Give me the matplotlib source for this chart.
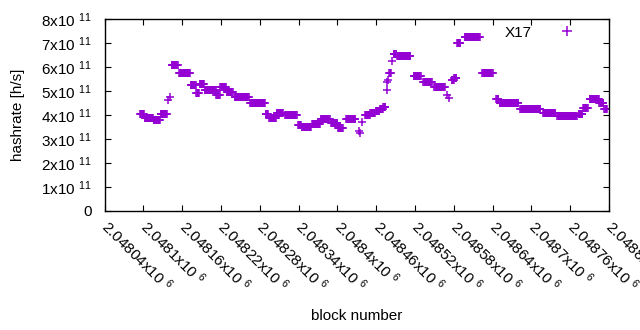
import matplotlib
matplotlib.use("Agg")
import matplotlib.pyplot as plt
import numpy as np

plt.rcParams['font.family'] = ['Liberation Sans', 'DejaVu Sans']
plt.rcParams['mathtext.fontset'] = 'custom'
plt.rcParams['mathtext.rm'] = 'Liberation Sans'
plt.rcParams['mathtext.it'] = 'Liberation Sans'

# runs of blocks with the same hashrate estimate (start block, end block, hashrate x1e11)
run_start = [2048095, 2048102, 2048116, 2048127, 2048138, 2048141, 2048144, 2048155,
             2048173, 2048182, 2048187, 2048195, 2048213, 2048219, 2048229, 2048241,
             2048265, 2048289, 2048295, 2048306, 2048319, 2048339, 2048345, 2048361,
             2048374, 2048390, 2048401, 2048414, 2048433, 2048435, 2048438, 2048443,
             2048451, 2048459, 2048466, 2048471, 2048476, 2048477, 2048479, 2048480,
             2048485, 2048487, 2048493, 2048518, 2048533, 2048550, 2048569, 2048572,
             2048577, 2048581, 2048585, 2048597, 2048624, 2048646, 2048651, 2048683,
             2048718, 2048740, 2048773, 2048780, 2048790, 2048805, 2048813]
run_end = [2048101, 2048115, 2048126, 2048136, 2048138, 2048141, 2048153, 2048172,
           2048181, 2048186, 2048194, 2048212, 2048218, 2048228, 2048238, 2048263,
           2048288, 2048293, 2048305, 2048316, 2048337, 2048344, 2048359, 2048373,
           2048388, 2048400, 2048408, 2048428, 2048433, 2048435, 2048438, 2048450,
           2048458, 2048465, 2048470, 2048474, 2048476, 2048477, 2048479, 2048483,
           2048485, 2048491, 2048513, 2048529, 2048546, 2048566, 2048569, 2048572,
           2048580, 2048584, 2048590, 2048620, 2048640, 2048649, 2048680, 2048714,
           2048737, 2048770, 2048779, 2048787, 2048804, 2048811, 2048817]
run_rate = [4.04, 3.88, 3.78, 4.04, 4.62, 4.75, 6.08, 5.74,
            5.25, 4.92, 5.29, 5.04, 4.83, 5.17, 4.94, 4.74,
            4.50, 4.03, 3.88, 4.10, 3.99, 3.58, 3.52, 3.62,
            3.83, 3.65, 3.45, 3.83, 3.33, 3.25, 3.70, 3.98,
            4.08, 4.16, 4.25, 4.35, 5.05, 5.38, 5.45, 5.75,
            6.26, 6.54, 6.46, 5.62, 5.37, 5.17, 4.83, 4.70,
            5.46, 5.55, 7.00, 7.27, 5.75, 4.65, 4.50, 4.27,
            4.10, 3.97, 4.05, 4.30, 4.67, 4.50, 4.25]

xticks = np.arange(2048040, 2048821, 60)
yticks = np.arange(0, 9) * 1e11

blocks = []
rates = []
for s, e, r in zip(run_start, run_end, run_rate):
    for b in range(s, e + 1):
        blocks.append(b)
        rates.append(r * 1e11)

fig = plt.figure(figsize=(6.4, 3.3), dpi=100)
ax = fig.add_axes([104.5 / 640, 1 - 211 / 330, (609 - 104.5) / 640, (211 - 19) / 330])

ax.plot(blocks, rates, linestyle='none', marker='+', color='#9400D3',
        markersize=5.5, markeredgewidth=1.1, label='X17')

ax.set_xlim(2048040, 2048820)
ax.set_ylim(0, 8e11)

def xlab(v):
    s = ('%.5f' % (v / 1e6)).rstrip('0')
    return s + 'x10 $^{6}$'

def ylab(v):
    if v == 0:
        return '0'
    return '%dx10 $^{11}$' % round(v / 1e11)

ax.set_xticks(xticks)
ax.set_xticklabels([xlab(v) for v in xticks], rotation=-45, ha='left', va='center',
                   rotation_mode='anchor', fontsize=11)
ax.set_yticks(yticks)
ax.set_yticklabels([ylab(v) for v in yticks], fontsize=11)
ax.tick_params(direction='in', top=True, right=True, length=4, width=0.8)
ax.tick_params(axis='x', pad=9)
ax.tick_params(axis='y', pad=9)
for sp in ax.spines.values():
    sp.set_linewidth(1.0)

ax.set_xlabel('block number', fontsize=11, labelpad=10)
ax.set_ylabel('hashrate [h/s]', fontsize=11, labelpad=12)

ax.legend(loc='upper right', bbox_to_anchor=(590 / 640, 1 - 18 / 330),
          bbox_transform=fig.transFigure, frameon=False, markerfirst=False,
          fontsize=11, handlelength=2.0, handletextpad=1.3, borderpad=0,
          markerscale=1.3)

fig.savefig('out.png', dpi=100)
